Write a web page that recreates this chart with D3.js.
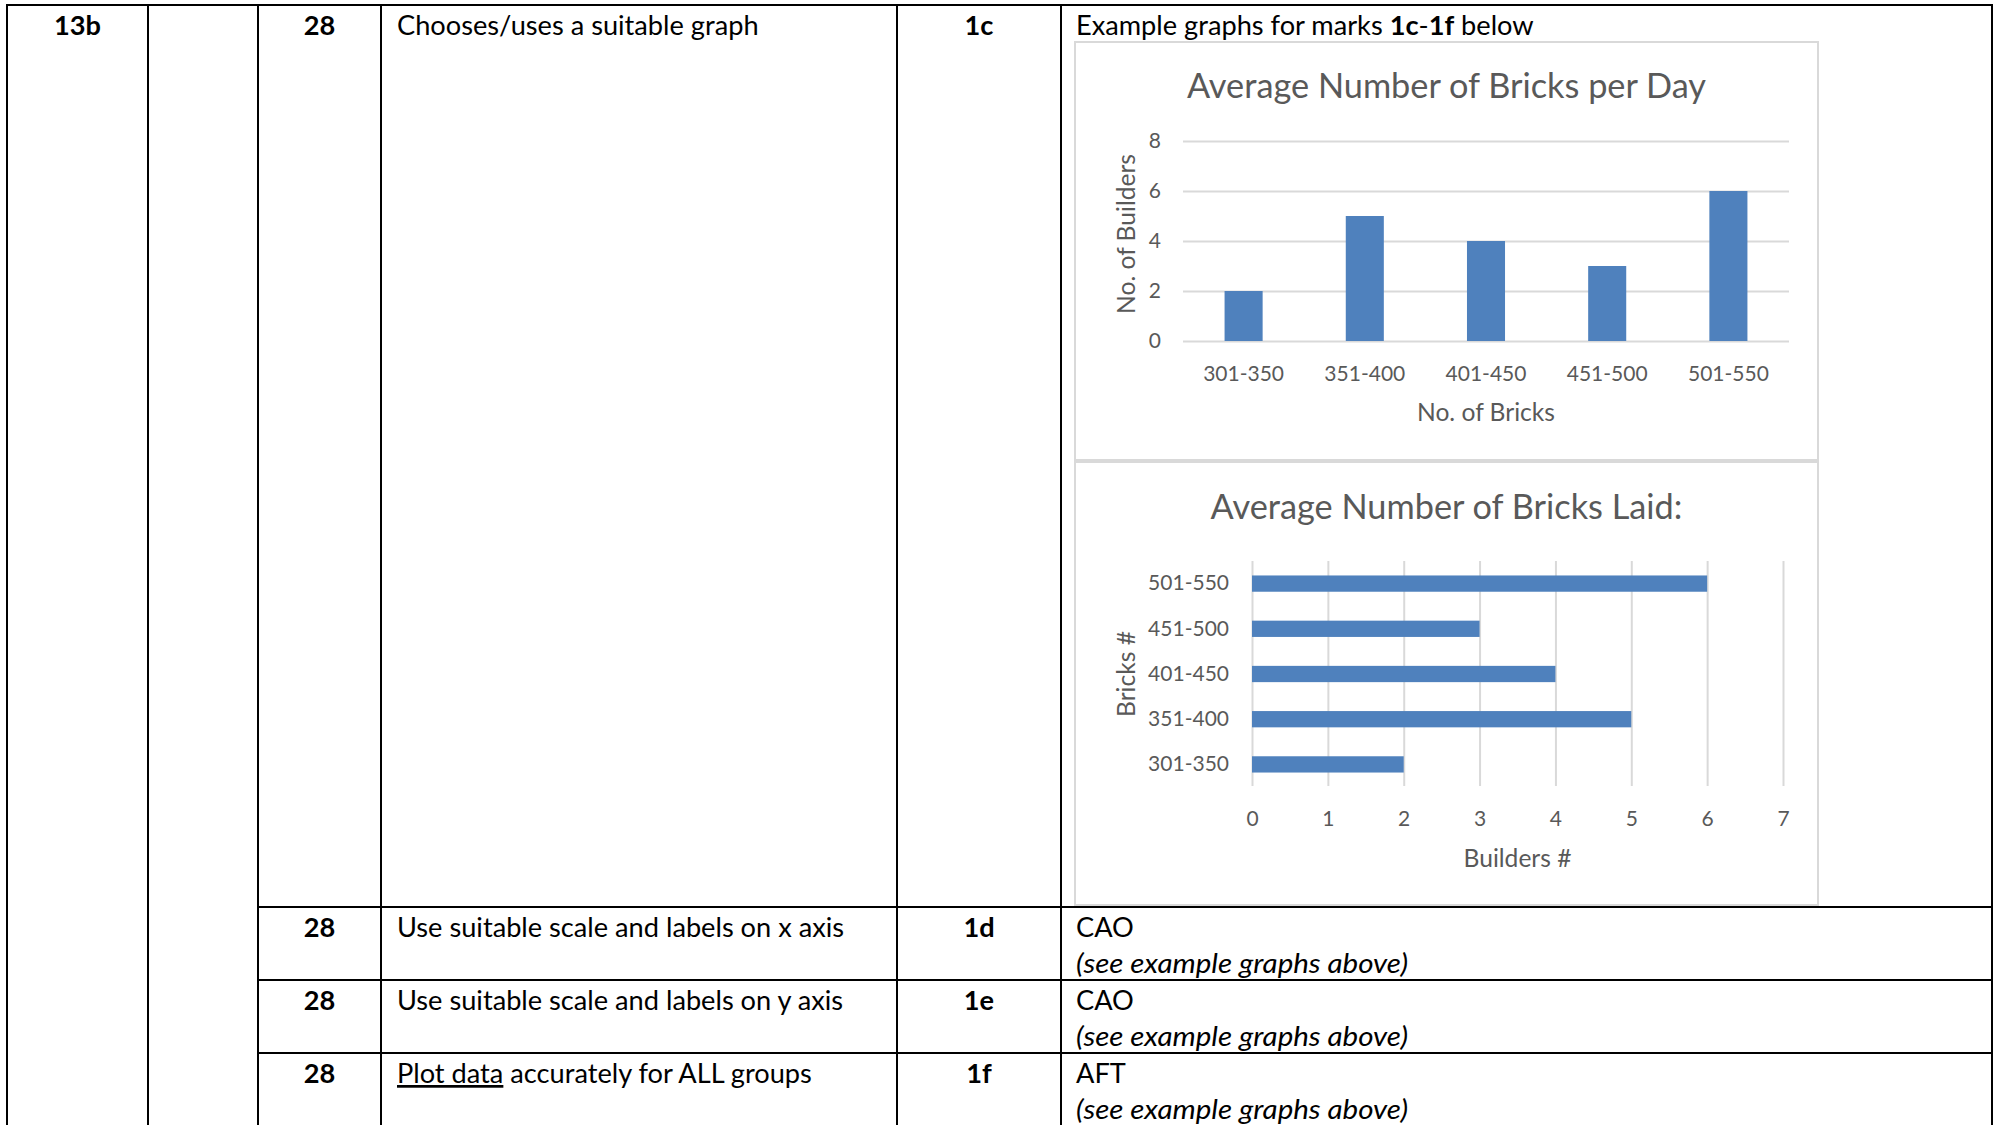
<!DOCTYPE html>
<html>
<head>
<meta charset="utf-8">
<script src="https://cdn.jsdelivr.net/npm/d3@7/dist/d3.min.js"></script>
<style>
  html, body { margin: 0; padding: 0; background: #ffffff; }
  svg { display: block; }
  .cell { font-family: Lato, "Open Sans", sans-serif; font-size: 27.2px; fill: #000; }
  .chart text { font-family: Lato, "Open Sans", sans-serif; fill: #595959; }
</style>
</head>
<body>
<svg id="page" width="2001" height="1125"></svg>
<script>
// Score bands (bricks laid per day) and number of builders in each band
const categories = ["301-350", "351-400", "401-450", "451-500", "501-550"];
const builders = [2, 5, 4, 3, 6];
const columnTicks = [0, 2, 4, 6, 8];
const barTicks = [0, 1, 2, 3, 4, 5, 6, 7];

// Marking-scheme rows
const markRows = [
  { q: "28", criterion: "Use suitable scale and labels on x axis", code: "1d", answer: "CAO" },
  { q: "28", criterion: "Use suitable scale and labels on y axis", code: "1e", answer: "CAO" },
  { q: "28", criterion: "Plot data accurately for ALL groups", code: "1f", answer: "AFT" }
];

const svg = d3.select("#page");
svg.append("rect").attr("width", 2001).attr("height", 1125).attr("fill", "#fff");

// ---------- table grid ----------
const colX = [7, 148, 258, 381, 897, 1061, 1992];
const tableTop = 5, tableBottom = 1125;
const rowLines = [907, 980, 1053];
const grid = svg.append("g").attr("stroke", "#000").attr("stroke-width", 2);
grid.append("line").attr("x1", colX[0] - 1).attr("x2", colX[6] + 1).attr("y1", tableTop).attr("y2", tableTop);
colX.forEach(x => grid.append("line").attr("x1", x).attr("x2", x).attr("y1", tableTop).attr("y2", tableBottom));
rowLines.forEach(y => grid.append("line").attr("x1", colX[2]).attr("x2", colX[6]).attr("y1", y).attr("y2", y));

const cells = svg.append("g").attr("class", "cell");
const mid = i => (colX[i] + colX[i + 1]) / 2;
const firstBase = 35;

// first row
cells.append("text").attr("x", mid(0)).attr("y", firstBase).attr("text-anchor", "middle").attr("font-weight", "bold").text("13b");
cells.append("text").attr("x", mid(2)).attr("y", firstBase).attr("text-anchor", "middle").attr("font-weight", "bold").text("28");
cells.append("text").attr("x", 397).attr("y", firstBase).text("Chooses/uses a suitable graph");
cells.append("text").attr("x", mid(4)).attr("y", firstBase).attr("text-anchor", "middle").attr("font-weight", "bold").text("1c");
const ex = cells.append("text").attr("x", 1076).attr("y", firstBase);
ex.append("tspan").text("Example graphs for marks ");
ex.append("tspan").attr("font-weight", "bold").text("1c");
ex.append("tspan").text("-");
ex.append("tspan").attr("font-weight", "bold").text("1f");
ex.append("tspan").text(" below");

// remaining rows
markRows.forEach((r, i) => {
  const base = rowLines[i] + 30;
  cells.append("text").attr("x", mid(2)).attr("y", base).attr("text-anchor", "middle").attr("font-weight", "bold").text(r.q);
  const c = cells.append("text").attr("x", 397).attr("y", base);
  if (r.criterion.startsWith("Plot data")) {
    c.append("tspan").attr("text-decoration", "underline").text("Plot data");
    c.append("tspan").text(r.criterion.slice("Plot data".length));
  } else {
    c.text(r.criterion);
  }
  cells.append("text").attr("x", mid(4)).attr("y", base).attr("text-anchor", "middle").attr("font-weight", "bold").text(r.code);
  cells.append("text").attr("x", 1076).attr("y", base).text(r.answer);
  cells.append("text").attr("x", 1076).attr("y", base + 36).attr("font-style", "italic")
    .attr("textLength", 332).attr("lengthAdjust", "spacingAndGlyphs")
    .text("(see example graphs above)");
});

// ---------- chart frames ----------
const frames = svg.append("g").attr("fill", "none").attr("stroke", "#d9d9d9").attr("stroke-width", 2);
frames.append("rect").attr("x", 1075).attr("y", 42).attr("width", 743).attr("height", 418);
frames.append("rect").attr("x", 1075).attr("y", 462).attr("width", 743).attr("height", 443);

const blue = "#4f81bd";
const gridColor = "#d9d9d9";
const tickSize = 21;
const titleSize = 34.3;
const axisTitleSize = 24.6;

// ---------- column chart ----------
const c1 = svg.append("g").attr("class", "chart");
const x1 = d3.scaleBand().domain(categories).range([1183, 1789]).paddingInner(0.686).paddingOuter(0.343);
const y1 = d3.scaleLinear().domain([0, 8]).range([341, 141]);

const yAx = c1.append("g").attr("transform", "translate(1183,0)")
  .call(d3.axisLeft(y1).tickValues(columnTicks).tickSize(-(1789 - 1183)).tickPadding(22).tickFormat(d3.format("d")));
yAx.select(".domain").remove();
yAx.selectAll(".tick line").attr("stroke", gridColor).attr("stroke-width", 2);
yAx.selectAll(".tick text").attr("font-size", tickSize).attr("fill", "#595959");

c1.append("g").selectAll("rect").data(categories).join("rect")
  .attr("x", d => x1(d))
  .attr("width", x1.bandwidth())
  .attr("y", (d, i) => y1(builders[i]))
  .attr("height", (d, i) => y1(0) - y1(builders[i]))
  .attr("fill", blue);

const xAx = c1.append("g").attr("transform", "translate(0,341)")
  .call(d3.axisBottom(x1).tickSize(0).tickPadding(25));
xAx.select(".domain").remove();
xAx.selectAll(".tick text").attr("font-size", tickSize).attr("fill", "#595959");

c1.append("text").attr("x", 1446.5).attr("y", 98).attr("text-anchor", "middle").attr("font-size", titleSize)
  .text("Average Number of Bricks per Day");
c1.append("text").attr("x", 1486).attr("y", 421).attr("text-anchor", "middle").attr("font-size", axisTitleSize)
  .text("No. of Bricks");
c1.append("text").attr("transform", "translate(1135,234) rotate(-90)").attr("text-anchor", "middle").attr("font-size", axisTitleSize)
  .text("No. of Builders");

// ---------- bar chart ----------
const c2 = svg.append("g").attr("class", "chart");
const x2 = d3.scaleLinear().domain([0, 7]).range([1252, 1783]);
const y2 = d3.scaleBand().domain(categories.slice().reverse()).range([561, 787]).paddingInner(0.64).paddingOuter(0.32);

const xAx2 = c2.append("g").attr("transform", "translate(0,786)")
  .call(d3.axisBottom(x2).tickValues(barTicks).tickSize(-(786 - 561)).tickPadding(25).tickFormat(d3.format("d")));
xAx2.select(".domain").remove();
xAx2.selectAll(".tick line").attr("stroke", gridColor).attr("stroke-width", 2);
xAx2.selectAll(".tick text").attr("font-size", tickSize).attr("fill", "#595959");

c2.append("g").selectAll("rect").data(categories).join("rect")
  .attr("x", x2(0))
  .attr("width", (d, i) => x2(builders[i]) - x2(0))
  .attr("y", d => y2(d))
  .attr("height", y2.bandwidth())
  .attr("fill", blue);

const yAx2 = c2.append("g").attr("transform", "translate(1252,0)")
  .call(d3.axisLeft(y2).tickSize(0).tickPadding(23));
yAx2.select(".domain").remove();
yAx2.selectAll(".tick text").attr("font-size", tickSize).attr("fill", "#595959");

c2.append("text").attr("x", 1446.5).attr("y", 519).attr("text-anchor", "middle").attr("font-size", titleSize)
  .text("Average Number of Bricks Laid:");
c2.append("text").attr("x", 1517.5).attr("y", 867).attr("text-anchor", "middle").attr("font-size", axisTitleSize)
  .text("Builders #");
c2.append("text").attr("transform", "translate(1135,674) rotate(-90)").attr("text-anchor", "middle").attr("font-size", axisTitleSize)
  .text("Bricks #");
</script>
</body>
</html>
